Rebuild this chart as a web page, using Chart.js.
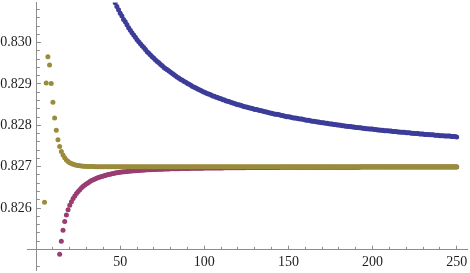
<!DOCTYPE html>
<html>
<head>
<meta charset="utf-8">
<script src="https://cdn.jsdelivr.net/npm/chart.js@4"></script>
<style>
  html, body { margin: 0; padding: 0; background: #fff; }
  canvas { display: block; }
</style>
</head>
<body>
<canvas id="myChart" width="470" height="273"></canvas>
<script>
// Data --------------------------------------------

// first n of each series (points are at n, n+1, n+2 ...)
const goldStart = 5;
const purpleStart = 14;
const blueStart = 46;

const goldValues = [
  0.82614, 0.82902, 0.82966, 0.82946, 0.82901, 0.82856, 0.82818, 0.82788, 0.82765, 0.82749,
  0.82737, 0.827282, 0.827216, 0.827165, 0.827127, 0.827098, 0.827076, 0.827059, 0.827046, 0.827036,
  0.827028, 0.827022, 0.827017, 0.827013, 0.82701, 0.827008, 0.827006, 0.827005, 0.827004, 0.827003,
  0.827002, 0.827001, 0.827001, 0.827001, 0.827001, 0.827001,
  0.827, 0.827, 0.827, 0.827, 0.827, 0.827, 0.827, 0.827, 0.827, 0.827,
  0.827, 0.827, 0.827, 0.827, 0.827, 0.827, 0.827, 0.827, 0.827, 0.827,
  0.827, 0.827, 0.827, 0.827, 0.827, 0.827, 0.827, 0.827, 0.827, 0.827,
  0.827, 0.827, 0.827, 0.827, 0.827, 0.827, 0.827, 0.827, 0.827, 0.827,
  0.827, 0.827, 0.827, 0.827, 0.827, 0.827, 0.827, 0.827, 0.827, 0.827,
  0.827, 0.827, 0.827, 0.827, 0.827, 0.827, 0.827, 0.827, 0.827, 0.827,
  0.827, 0.827, 0.827, 0.827, 0.827, 0.827, 0.827, 0.827, 0.827, 0.827,
  0.827, 0.827, 0.827, 0.827, 0.827, 0.827, 0.827, 0.827, 0.827, 0.827,
  0.827, 0.827, 0.827, 0.827, 0.827, 0.827, 0.827, 0.827, 0.827, 0.827,
  0.827, 0.827, 0.827, 0.827, 0.827, 0.827, 0.827, 0.827, 0.827, 0.827,
  0.827, 0.827, 0.827, 0.827, 0.827, 0.827, 0.827, 0.827, 0.827, 0.827,
  0.827, 0.827, 0.827, 0.827, 0.827, 0.827, 0.827, 0.827, 0.827, 0.827,
  0.827, 0.827, 0.827, 0.827, 0.827, 0.827, 0.827, 0.827, 0.827, 0.827,
  0.827, 0.827, 0.827, 0.827, 0.827, 0.827, 0.827, 0.827, 0.827, 0.827,
  0.827, 0.827, 0.827, 0.827, 0.827, 0.827, 0.827, 0.827, 0.827, 0.827,
  0.827, 0.827, 0.827, 0.827, 0.827, 0.827, 0.827, 0.827, 0.827, 0.827,
  0.827, 0.827, 0.827, 0.827, 0.827, 0.827, 0.827, 0.827, 0.827, 0.827,
  0.827, 0.827, 0.827, 0.827, 0.827, 0.827, 0.827, 0.827, 0.827, 0.827,
  0.827, 0.827, 0.827, 0.827, 0.827, 0.827, 0.827, 0.827, 0.827, 0.827,
  0.827, 0.827, 0.827, 0.827, 0.827, 0.827, 0.827, 0.827, 0.827, 0.827,
  0.827, 0.827, 0.827, 0.827, 0.827, 0.827, 0.827, 0.827, 0.827, 0.827
];

const purpleValues = [
  0.824882, 0.825198, 0.825464, 0.825675, 0.825833, 0.825958, 0.826068, 0.826153, 0.826230, 0.826295,
  0.826350, 0.826400, 0.826445, 0.826490, 0.826525, 0.826560, 0.826590, 0.826615, 0.826640, 0.826665,
  0.826685, 0.826705, 0.826722, 0.826738, 0.826752, 0.826765, 0.826778, 0.826790, 0.826801, 0.826811,
  0.826820, 0.826829, 0.826837, 0.826845, 0.826852, 0.826859, 0.826865, 0.826871, 0.826876, 0.826881,
  0.826886, 0.826890, 0.826894, 0.826898, 0.826902, 0.826905, 0.826908, 0.826911, 0.826914, 0.826917,
  0.826919, 0.826922, 0.826924, 0.826926, 0.826928, 0.826930, 0.826932, 0.826934, 0.826936, 0.826938,
  0.826939, 0.826941, 0.826942, 0.826944, 0.826945, 0.826946, 0.826948, 0.826949, 0.826950, 0.826951,
  0.826952, 0.826953, 0.826954, 0.826955, 0.826956, 0.826957, 0.826958, 0.826959, 0.826960, 0.826961,
  0.826961, 0.826962, 0.826963, 0.826964, 0.826964, 0.826965, 0.826966, 0.826966, 0.826967, 0.826967,
  0.826968, 0.826968, 0.826969, 0.826969, 0.826970, 0.826970, 0.826971, 0.826971, 0.826972, 0.826972,
  0.826973, 0.826973, 0.826974, 0.826974, 0.826975, 0.826975, 0.826976, 0.826976, 0.826977, 0.826977,
  0.826977, 0.826978, 0.826978, 0.826978, 0.826979, 0.826979, 0.826979, 0.826980, 0.826980, 0.826980,
  0.826981, 0.826981, 0.826981, 0.826982, 0.826982, 0.826982, 0.826982, 0.826983, 0.826983, 0.826983,
  0.826983, 0.826984, 0.826984, 0.826984, 0.826984, 0.826984, 0.826984, 0.826985, 0.826985, 0.826985,
  0.826985, 0.826985, 0.826985, 0.826985, 0.826985, 0.826986, 0.826986, 0.826986, 0.826986, 0.826986,
  0.826986, 0.826986, 0.826986, 0.826987, 0.826987, 0.826987, 0.826987, 0.826987, 0.826987, 0.826987,
  0.826987, 0.826987, 0.826988, 0.826988, 0.826988, 0.826988, 0.826988, 0.826988, 0.826988, 0.826988,
  0.826989, 0.826989, 0.826989, 0.826989, 0.826989, 0.826989, 0.826989, 0.826989, 0.826989, 0.826990,
  0.826990, 0.826990, 0.826990, 0.826990, 0.826990, 0.826990, 0.826990, 0.826991, 0.826991, 0.826991,
  0.826991, 0.826991, 0.826991, 0.826991, 0.826991, 0.826991, 0.826991, 0.826991, 0.826991, 0.826992,
  0.826992, 0.826992, 0.826992, 0.826992, 0.826992, 0.826992, 0.826992, 0.826992, 0.826992, 0.826992,
  0.826992, 0.826992, 0.826993, 0.826993, 0.826993, 0.826993, 0.826993, 0.826993, 0.826993, 0.826993,
  0.826993, 0.826993, 0.826993, 0.826993, 0.826993, 0.826994, 0.826994, 0.826994, 0.826994, 0.826994,
  0.826994, 0.826994, 0.826994, 0.826994, 0.826994, 0.826994, 0.826994
];

const blueValues = [
  0.83104, 0.83096, 0.83087, 0.83079, 0.83071, 0.83064, 0.83056, 0.83050, 0.83043, 0.83036,
  0.83030, 0.83024, 0.83018, 0.83013, 0.83007, 0.83002, 0.82997, 0.82992, 0.82988, 0.82983,
  0.82978, 0.82974, 0.82970, 0.82966, 0.82962, 0.82958, 0.82954, 0.82951, 0.82947, 0.82944,
  0.82940, 0.82937, 0.82934, 0.82931, 0.82928, 0.82925, 0.82922, 0.82919, 0.82916, 0.82914,
  0.82911, 0.82909, 0.82906, 0.82904, 0.82901, 0.82899, 0.82897, 0.82894, 0.82892, 0.82890,
  0.82888, 0.82886, 0.82884, 0.82882, 0.82880, 0.82878, 0.82876, 0.82875, 0.82873, 0.82871,
  0.82870, 0.82868, 0.82867, 0.82865, 0.82864, 0.82862, 0.82861, 0.82859, 0.82858, 0.82857,
  0.82855, 0.82854, 0.82853, 0.82851, 0.82850, 0.82849, 0.82848, 0.82846, 0.82845, 0.82844,
  0.82843, 0.82842, 0.82841, 0.82840, 0.82838, 0.82838, 0.82837, 0.82836, 0.82835, 0.82834,
  0.82833, 0.82832, 0.82831, 0.82830, 0.82829, 0.82828, 0.82827, 0.82827, 0.82826, 0.82825,
  0.82824, 0.82823, 0.82822, 0.82821, 0.82821, 0.82820, 0.82819, 0.82818, 0.82818, 0.82817,
  0.82816, 0.82815, 0.82815, 0.82814, 0.82813, 0.82812, 0.82812, 0.82811, 0.82810, 0.82810,
  0.82809, 0.82808, 0.82808, 0.82807, 0.82806, 0.82806, 0.82805, 0.82805, 0.82804, 0.82803,
  0.82803, 0.82802, 0.82802, 0.82801, 0.82801, 0.82800, 0.82799, 0.82799, 0.82798, 0.82798,
  0.82797, 0.82797, 0.82796, 0.82796, 0.82795, 0.82795, 0.82794, 0.82794, 0.82793, 0.82793,
  0.82792, 0.82792, 0.82791, 0.82791, 0.82791, 0.82790, 0.82790, 0.82789, 0.82789, 0.82788,
  0.82788, 0.82787, 0.82787, 0.82787, 0.82786, 0.82786, 0.82785, 0.82785, 0.82785, 0.82784,
  0.82784, 0.82783, 0.82783, 0.82783, 0.82782, 0.82782, 0.82782, 0.82781, 0.82781, 0.82780,
  0.82780, 0.82780, 0.82779, 0.82779, 0.82779, 0.82778, 0.82778, 0.82778, 0.82777, 0.82777,
  0.82777, 0.82776, 0.82776, 0.82776, 0.82775, 0.82775, 0.82775, 0.82774, 0.82774, 0.82774,
  0.82774, 0.82773, 0.82773, 0.82773, 0.82772
];

const xTicks = [50, 100, 150, 200, 250];
const yTicks = [0.826, 0.827, 0.828, 0.829, 0.830];
const xMinorTicks = [10, 20, 30, 40, 60, 70, 80, 90, 110, 120, 130, 140, 160, 170, 180, 190,
  210, 220, 230, 240];
const yMinorTicks = [0.8246, 0.8252, 0.8254, 0.8256, 0.8258, 0.8262, 0.8264, 0.8266, 0.8268,
  0.8272, 0.8274, 0.8276, 0.8278, 0.8282, 0.8284, 0.8286, 0.8288, 0.8292, 0.8294, 0.8296, 0.8298,
  0.8302, 0.8304, 0.8306, 0.8308];

// Style --------------------------------------------

const axisColor = '#8c8c8c';
const labelColor = '#1e1e1e';
const tickFont = { family: "'Liberation Serif', 'DejaVu Serif', serif", size: 14 };

function toPoints(start, values) {
  return values.map((v, i) => ({ x: start + i, y: v }));
}

// small ticks + the bit of x axis left of the crossing point
const minorTicks = {
  id: 'minorTicks',
  beforeDatasetsDraw(chart) {
    const { ctx, scales: { x, y } } = chart;
    const ax = Math.round(x.left - 0.5) + 0.5;
    const ay = Math.round(y.getPixelForValue(0.825) - 0.5) + 0.5;
    ctx.save();
    ctx.strokeStyle = axisColor;
    ctx.lineWidth = 1;
    ctx.beginPath();
    ctx.moveTo(27, ay);
    ctx.lineTo(ax, ay);
    xMinorTicks.forEach(v => {
      const px = Math.round(x.getPixelForValue(v) - 0.5) + 0.5;
      ctx.moveTo(px, ay + 0.5);
      ctx.lineTo(px, ay - 2.7);
    });
    yMinorTicks.forEach(v => {
      const py = Math.round(y.getPixelForValue(v) - 0.5) + 0.5;
      ctx.moveTo(ax - 0.5, py);
      ctx.lineTo(ax + 3.3, py);
    });
    ctx.stroke();
    ctx.restore();
  }
};

// Scatter chart --------------------------------------------

let ctx = document.getElementById('myChart').getContext('2d');
let chart = new Chart(ctx, {
  type: 'scatter',
  data: {
    datasets: [{
      label: 'gold',
      data: toPoints(goldStart, goldValues),
      backgroundColor: '#9a8c3c'
    }, {
      label: 'purple',
      data: toPoints(purpleStart, purpleValues),
      backgroundColor: '#993d72'
    }, {
      label: 'blue',
      data: toPoints(blueStart, blueValues),
      backgroundColor: '#3c3c9a'
    }]
  },
  options: {
    responsive: false,
    animation: false,
    events: [],
    layout: { padding: 0 },
    elements: {
      point: { radius: 2.5, borderWidth: 0, hoverRadius: 2.5 }
    },
    plugins: {
      legend: { display: false },
      tooltip: { enabled: false }
    },
    scales: {
      x: {
        type: 'linear',
        position: { y: 0.825 },
        min: 0,
        max: 256.44,
        afterBuildTicks: s => { s.ticks = xTicks.map(v => ({ value: v })); },
        afterFit: s => { s.paddingLeft = 0; s.paddingRight = 0; s.paddingTop = 0; s.paddingBottom = 0; },
        grid: { display: true, drawOnChartArea: false, drawTicks: true, tickLength: -4.3, color: axisColor },
        border: { display: true, color: axisColor, width: 1 },
        ticks: {
          font: tickFont,
          color: labelColor,
          padding: 9,
          autoSkip: false,
          maxRotation: 0,
          callback: v => String(v)
        }
      },
      y: {
        type: 'linear',
        position: 'left',
        min: 0.824492,
        max: 0.830968,
        afterBuildTicks: s => { s.ticks = yTicks.map(v => ({ value: v })); },
        afterFit: s => { s.width = 36.1; s.paddingTop = 0; s.paddingBottom = 0; },
        grid: { display: true, drawOnChartArea: false, drawTicks: true, tickLength: -4.8, color: axisColor },
        border: { display: true, color: axisColor, width: 1 },
        ticks: {
          font: tickFont,
          color: labelColor,
          padding: 9.2,
          autoSkip: false,
          callback: v => v.toFixed(3)
        }
      }
    }
  },
  plugins: [minorTicks]
});
</script>
</body>
</html>
